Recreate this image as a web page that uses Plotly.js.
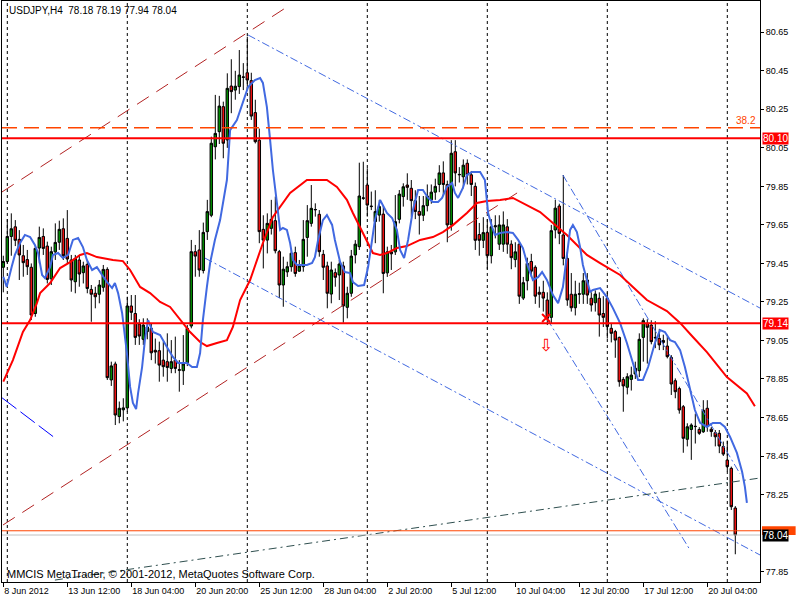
<!DOCTYPE html>
<html><head><meta charset="utf-8">
<script src="https://cdn.plot.ly/plotly-3.0.1.min.js"></script>
<style>html,body{margin:0;padding:0;background:#fff}#chart{width:800px;height:600px}</style>
</head><body><div id="chart"></div>
<script>
// ---- OHLC of USDJPY H4 bars (bar 0 = 8 Jun 2012 20:00) ----
const openP = [
79.43,79.46,79.59,79.64,79.575,79.49,79.47,79.43,79.19,79.53,
79.59,79.54,79.37,79.51,79.56,79.63,79.58,79.468,79.355,79.468,
79.402,79.445,79.315,79.295,79.29,79.326,79.419,78.845,78.928,78.655,
78.69,78.70,79.229,79.19,79.135,79.056,79.096,79.113,78.999,78.997,
78.948,78.94,78.905,78.948,78.895,78.893,78.935,79.125,79.511,79.52,
79.413,79.615,79.70,80.056,80.134,80.264,80.091,80.371,80.35,80.368,
80.416,80.44,80.399,80.233,80.09,79.627,79.571,79.632,79.672,79.511,
79.338,79.406,79.433,79.506,79.41,79.433,79.585,79.658,79.728,79.705,
79.497,79.437,79.291,79.402,79.39,79.437,79.222,79.295,79.494,79.537,
79.788,79.857,79.745,79.667,79.701,79.706,79.401,79.51,79.51,79.679,
79.797,79.857,79.84,79.776,79.72,79.70,79.75,79.78,79.82,79.86,
79.92,79.86,79.65,80.03,79.91,79.90,79.97,79.91,79.85,79.60,
79.57,79.61,79.49,79.64,79.55,79.55,79.64,79.55,79.47,79.55,
79.27,79.36,79.46,79.43,79.30,79.30,79.26,79.17,79.624,79.748,
79.598,79.476,79.29,79.22,79.29,79.29,79.364,79.269,79.246,79.269,
79.19,79.269,79.113,79.096,79.066,78.848,78.807,78.848,78.876,78.893,
79.066,79.139,79.13,79.066,79.061,79.05,79.021,78.962,78.841,78.80,
78.706,78.537,78.588,78.603,78.588,78.576,78.698,78.589,78.571,78.568,
78.499,78.429,78.386,78.18];
const highP = [
79.49,79.68,79.71,79.675,79.623,79.546,79.52,79.45,79.546,79.641,
79.632,79.563,79.537,79.658,79.672,79.684,79.727,79.494,79.494,79.494,
79.459,79.468,79.338,79.329,79.364,79.442,79.43,78.94,78.94,78.733,
78.75,79.277,79.286,79.286,79.16,79.165,79.165,79.139,79.06,79.044,
79.044,79.087,79.052,79.07,78.948,79.078,79.13,79.572,79.546,79.623,
79.662,79.78,80.108,80.325,80.32,80.29,80.437,80.51,80.45,80.558,
80.49,80.627,80.44,80.30,80.15,79.70,79.71,79.78,79.797,79.52,
79.485,79.459,79.528,79.537,79.468,79.675,79.753,79.857,79.762,79.727,
79.52,79.459,79.459,79.424,79.468,79.459,79.329,79.52,79.571,79.973,
79.978,79.944,79.823,79.83,79.78,79.753,79.537,79.546,79.805,79.831,
79.866,79.918,79.883,79.83,79.80,79.80,79.86,79.86,79.89,79.96,
79.98,79.88,80.09,80.09,79.95,79.99,79.99,79.93,79.87,79.66,
79.69,79.68,79.68,79.70,79.70,79.72,79.68,79.57,79.56,79.56,
79.38,79.48,79.50,79.44,79.33,79.36,79.30,79.65,79.78,79.76,
79.909,79.51,79.40,79.36,79.35,79.40,79.40,79.30,79.31,79.30,
79.28,79.30,79.14,79.105,79.07,78.86,78.88,78.914,78.94,79.087,
79.165,79.16,79.155,79.15,79.11,79.08,79.07,78.974,78.853,78.81,
78.715,78.62,78.62,78.67,78.60,78.74,78.74,78.60,78.585,78.585,
78.525,78.53,78.395,78.19];
const lowP = [
79.30,79.45,79.49,79.54,79.364,79.381,79.39,79.156,79.173,79.45,
79.494,79.346,79.338,79.468,79.52,79.468,79.45,79.303,79.295,79.329,
79.346,79.295,79.147,79.217,79.243,79.303,78.845,78.814,78.611,78.62,
78.63,78.68,79.156,79.027,79.027,79.027,79.056,78.948,78.93,78.836,
78.862,78.836,78.88,78.88,78.784,78.819,78.917,79.113,79.381,79.381,
79.398,79.572,79.69,79.99,80.07,79.996,80.05,80.23,80.30,80.33,
80.35,80.35,80.195,80.073,79.555,79.424,79.502,79.60,79.502,79.27,
79.225,79.38,79.407,79.381,79.407,79.407,79.485,79.641,79.693,79.485,
79.364,79.217,79.243,79.329,79.26,79.142,79.165,79.277,79.45,79.52,
79.78,79.693,79.727,79.555,79.667,79.295,79.38,79.416,79.494,79.658,
79.745,79.78,79.693,79.68,79.60,79.67,79.72,79.76,79.78,79.82,
79.80,79.56,79.62,79.85,79.87,79.84,79.86,79.80,79.52,79.49,
79.53,79.42,79.45,79.58,79.52,79.51,79.50,79.42,79.43,79.24,
79.26,79.31,79.38,79.24,79.22,79.20,79.13,79.14,79.58,79.55,
79.44,79.23,79.20,79.18,79.24,79.24,79.24,79.20,79.20,79.07,
79.12,79.06,79.04,78.96,78.81,78.68,78.77,78.79,78.85,78.86,
78.94,78.93,79.03,79.01,79.00,79.00,78.957,78.767,78.75,78.67,
78.467,78.50,78.43,78.515,78.56,78.57,78.576,78.55,78.50,78.465,
78.45,78.37,78.17,77.94];
const closeP = [
79.46,79.59,79.63,79.57,79.494,79.454,79.433,79.182,79.528,79.585,
79.528,79.367,79.511,79.559,79.627,79.49,79.473,79.364,79.476,79.395,
79.437,79.32,79.29,79.277,79.338,79.419,78.857,78.918,78.663,78.698,
78.70,79.229,79.196,79.066,79.073,79.13,79.12,78.986,78.99,78.922,
78.914,78.91,78.94,78.905,78.898,78.928,79.113,79.511,79.488,79.416,
79.611,79.719,80.074,80.125,80.267,80.074,80.359,80.342,80.37,80.428,
80.418,80.402,80.215,80.082,79.615,79.571,79.658,79.679,79.516,79.338,
79.42,79.433,79.503,79.398,79.436,79.575,79.672,79.736,79.73,79.511,
79.43,79.295,79.416,79.378,79.447,79.229,79.295,79.488,79.55,79.80,
79.79,79.753,79.747,79.719,79.745,79.398,79.51,79.50,79.667,79.81,
79.848,79.845,79.776,79.72,79.70,79.75,79.80,79.82,79.85,79.92,
79.86,79.65,80.022,79.92,79.912,79.96,79.91,79.86,79.57,79.57,
79.61,79.49,79.64,79.645,79.65,79.65,79.55,79.48,79.51,79.28,
79.35,79.45,79.41,79.28,79.29,79.27,79.165,79.62,79.737,79.606,
79.476,79.26,79.22,79.29,79.292,79.36,79.286,79.234,79.291,79.182,
79.17,79.122,79.087,79.052,78.836,78.814,78.862,78.87,78.906,79.056,
79.153,79.118,79.044,79.064,79.027,79.04,78.966,78.824,78.784,78.689,
78.542,78.602,78.611,78.604,78.568,78.688,78.603,78.577,78.55,78.502,
78.46,78.395,78.187,78.04];

// ---- moving averages: [bar, price] ----
const maFast = [[0,79.381],[0.85,79.329],[2.1,79.433],[2.9,79.494],[4.2,79.556],[5.4,79.598],[6.7,79.587],[7.9,79.546],[8.7,79.504],[9.7,79.39],[10.4,79.374],[11.7,79.431],[12.4,79.494],[13.7,79.504],[14.9,79.478],[16.2,79.494],[17.4,79.572],[18.7,79.582],[19.9,79.535],[20.9,79.468],[22.2,79.416],[23.4,79.431],[24.7,79.39],[25.9,79.354],[27.2,79.322],[27.9,79.348],[28.7,79.296],[29.7,79.193],[30.9,78.985],[31.7,78.809],[32.4,78.726],[33.2,78.694],[33.7,78.777],[34.7,78.912],[35.4,79.052],[36.2,79.156],[37.4,79.094],[39.2,79.078],[40.9,79.016],[42.4,78.964],[43.7,78.933],[45.9,78.933],[47.2,78.912],[48.4,78.912],[49.2,78.985],[49.9,79.156],[50.9,79.328],[51.7,79.452],[52.9,79.572],[54.2,79.675],[55.9,79.883],[56.7,80.142],[58.4,80.194],[59.9,80.282],[61.2,80.366],[62.9,80.402],[64.2,80.413],[64.9,80.387],[65.9,80.262],[66.7,80.091],[67.4,79.935],[68.4,79.764],[69.2,79.624],[69.9,79.634],[70.9,79.624],[71.7,79.556],[72.4,79.468],[73.4,79.442],[75.9,79.442],[77.2,79.452],[77.9,79.483],[78.7,79.572],[79.9,79.675],[80.9,79.701],[82.2,79.65],[82.9,79.572],[84.2,79.458],[85.4,79.405],[86.7,79.4],[87.4,79.353],[88.7,79.333],[90.2,79.338],[91.2,79.431],[92.2,79.572],[92.9,79.675],[94.2,79.779],[94.9,79.753],[95.9,79.712],[97.2,79.686],[98.4,79.624],[99.2,79.52],[100.2,79.478],[101.2,79.572],[102.4,79.727],[103.7,79.831],[104.9,79.831],[106.2,79.79],[107.4,79.769],[108.7,79.769],[109.7,79.79],[110.9,79.847],[112.2,79.868],[112.9,79.816],[113.7,79.79],[114.9,79.842],[115.9,79.909],[117.2,79.925],[119.2,79.925],[120.4,79.883],[120.9,79.795],[121.2,79.712],[122.2,79.639],[122.9,79.598],[124.2,79.608],[125.9,79.613],[127.4,79.608],[128.7,79.572],[129.9,79.53],[131.2,79.432],[132.4,79.364],[133.7,79.379],[134.7,79.405],[135.9,79.364],[137.4,79.286],[138.7,79.244],[139.9,79.327],[140.9,79.483],[141.7,79.624],[142.4,79.649],[143.4,79.613],[144.2,79.535],[144.9,79.442],[145.9,79.364],[146.7,79.302],[147.4,79.312],[149.2,79.322],[150.9,79.275],[152.4,79.218],[154.2,79.14],[155.9,79.037],[157.4,78.933],[158.7,78.845],[159.9,78.845],[161.2,78.912],[162.9,79.037],[164.2,79.104],[165.4,79.094],[166.7,79.052],[167.9,79.042],[169.2,79.0],[170.4,78.912],[171.7,78.793],[172.9,78.689],[174.2,78.622],[175.9,78.601],[177.4,78.622],[179.2,78.622],[180.4,78.601],[181.7,78.549],[183.4,78.466],[184.7,78.368],[185.4,78.29],[185.9,78.207]];
const maSlow = [[0,78.836],[2.4,78.948],[4.9,79.094],[6.7,79.156],[8.4,79.244],[9.2,79.296],[11.7,79.348],[14.2,79.426],[16.7,79.457],[19.2,79.494],[20.9,79.504],[23.4,79.483],[27.4,79.468],[29.9,79.462],[31.7,79.416],[34.2,79.328],[36.7,79.296],[39.2,79.25],[41.7,79.224],[44.2,79.156],[46.7,79.094],[49.2,79.042],[50.9,79.021],[53.4,79.037],[55.9,79.052],[57.4,79.12],[59.2,79.26],[61.7,79.364],[64.9,79.556],[67.4,79.691],[71.7,79.816],[75.9,79.883],[80.9,79.883],[83.4,79.847],[85.9,79.78],[87.4,79.712],[89.2,79.639],[90.9,79.572],[92.4,79.504],[94.2,79.494],[95.9,79.504],[98.4,79.53],[100.9,79.54],[104.2,79.572],[107.4,79.587],[109.9,79.613],[112.4,79.649],[115.9,79.712],[118.4,79.764],[120.9,79.774],[124.2,79.779],[127.4,79.79],[130.9,79.753],[134.2,79.717],[137.4,79.66],[140.9,79.598],[143.4,79.546],[145.9,79.494],[149.2,79.452],[150.9,79.431],[154.2,79.39],[157.4,79.328],[160.9,79.26],[165.9,79.203],[169.2,79.141],[172.4,79.068],[175.9,78.99],[180.9,78.86],[184.2,78.803],[185.9,78.775],[187.9,78.708]];

// ---- axis ticks ----
const dateTickBars = [0,16,32,48,64,80,96,112,128,144,160,176];
const dateTickLabels = ["8 Jun 2012","13 Jun 12:00","18 Jun 04:00","20 Jun 20:00","25 Jun 12:00","28 Jun 04:00","2 Jul 20:00","5 Jul 12:00","10 Jul 04:00","12 Jul 20:00","17 Jul 12:00","20 Jul 04:00"];
const priceTicks = [77.85,78.25,78.45,78.65,78.85,79.05,79.25,79.45,79.65,79.85,80.05,80.25,80.45,80.65];
const weekStartBars = [1,31,61,91,121,151,181];

// ---- levels and drawn objects ----
const resistanceLevel = 80.10;
const supportLevel = 79.14;
const fiboLevel = 80.155;
const fiboLabel = "38.2";
const askLevel = 78.062;
const bidLevel = 78.04;
const redChannelUpper = {x:[-0.33,71.7], y:[79.821,80.792]};
const redChannelLower = {x:[-0.08,130.4], y:[78.092,79.842]};
const blueChannelUpper = {x:[61.2,189.2], y:[80.636,79.218]};
const blueChannelLower = {x:[50.4,189.2], y:[79.478,77.936]};
const steepUpper = {x:[139.9,184.2], y:[79.909,78.357]};
const steepLower = {x:[136.0,171.7], y:[79.16,77.962]};
const blueLeft = {x:[-0.3,12.9], y:[78.752,78.544]};
const slateLine = {x:[12.9,189.2], y:[77.806,78.336]};
const crossMark = {x:[135.7], y:[79.167]};
const arrowMark = {x:135.7, y:79.026};

const F = "Liberation Sans, Arial, sans-serif";
const bars = openP.map((_, i) => i);

function lineTrace(obj, color, dash, width) {
  return {type:'scatter', mode:'lines', x:obj.x, y:obj.y, line:{color:color, width:width||1, dash:dash}, hoverinfo:'skip', showlegend:false};
}
const DD = '8px,3px,2px,3px';
const traces = [
  lineTrace(redChannelUpper, '#B22222', '14px,9px'),
  lineTrace(redChannelLower, '#B22222', '14px,9px'),
  lineTrace(blueChannelUpper, '#4169E1', DD),
  lineTrace(blueChannelLower, '#4169E1', DD),
  lineTrace(steepUpper, '#4169E1', DD),
  lineTrace(steepLower, '#4169E1', DD),
  lineTrace(blueLeft, '#0000FF', '18px,5px'),
  lineTrace(slateLine, '#2F4F4F', '8px,4px,2px,4px'),
  {type:'candlestick', x:bars, open:openP, high:highP, low:lowP, close:closeP,
   increasing:{line:{color:'#000000', width:1}, fillcolor:'#008800'},
   decreasing:{line:{color:'#000000', width:1}, fillcolor:'#EE1111'},
   whiskerwidth:0, hoverinfo:'skip', showlegend:false},
  {type:'scatter', mode:'lines', x:maSlow.map(p=>p[0]), y:maSlow.map(p=>p[1]), line:{color:'#FF0000', width:2}, hoverinfo:'skip', showlegend:false},
  {type:'scatter', mode:'lines', x:maFast.map(p=>p[0]), y:maFast.map(p=>p[1]), line:{color:'#4169E1', width:2}, hoverinfo:'skip', showlegend:false},
  {type:'scatter', mode:'markers', x:crossMark.x, y:crossMark.y, marker:{symbol:'x-thin', size:8, line:{color:'#FF0000', width:2}}, hoverinfo:'skip', showlegend:false}
];

const shapes = [];
weekStartBars.forEach(b => shapes.push({type:'line', layer:'below', xref:'x', yref:'paper', x0:b, x1:b, y0:0, y1:1, line:{color:'#000000', width:1, dash:'3px,3px'}}));
function hline(v, color, width, dash) {
  return {type:'line', xref:'paper', yref:'y', x0:0, x1:1, y0:v, y1:v, line:{color:color, width:width, dash:dash||'solid'}};
}
shapes.push(hline(fiboLevel, '#FF4500', 1.5, '15px,7px'));
shapes.push(hline(resistanceLevel, '#FF0000', 2));
shapes.push(hline(supportLevel, '#FF0000', 2));
shapes.push(hline(askLevel, '#FF4500', 1));
shapes.push(hline(bidLevel, '#C0C0C0', 1));
// ask price tag, mostly hidden behind the bid tag
shapes.push({type:'rect', xref:'paper', yref:'y', x0:1.0026, x1:1.047, y0:bidLevel, y1:askLevel+0.024, fillcolor:'#FF4500', line:{width:0}});

function priceBox(v, bg, txt) {
  return {xref:'paper', yref:'y', x:1.003, y:v, xanchor:'left', yanchor:'middle', text:txt, showarrow:false,
    bgcolor:bg, borderpad:0, font:{family:F, size:10, color:'#FFFFFF'}};
}
const annotations = [
  {xref:'paper', yref:'paper', x:0.0066, y:0.997, xanchor:'left', yanchor:'top', showarrow:false,
   text:'USDJPY,H4  78.18 78.19 77.94 78.04', font:{family:F, size:10, color:'#000000'}},
  {xref:'paper', yref:'paper', x:0.004, y:0.0, xanchor:'left', yanchor:'bottom', showarrow:false,
   text:'MMCIS MetaTrader, © 2001-2012, MetaQuotes Software Corp.', font:{family:F, size:11, color:'#000000'}},
  {xref:'paper', yref:'y', x:0.998, y:fiboLevel, xanchor:'right', yanchor:'bottom', showarrow:false, text:fiboLabel,
   font:{family:F, size:10, color:'#FF4500'}},
  {xref:'x', yref:'y', x:arrowMark.x, y:arrowMark.y, showarrow:false, text:'⇩', font:{family:'DejaVu Sans', size:17, color:'#FF0000'}},
  priceBox(resistanceLevel, '#FF0000', resistanceLevel.toFixed(2)),
  priceBox(supportLevel, '#FF0000', supportLevel.toFixed(2)),
  priceBox(bidLevel, '#000000', bidLevel.toFixed(2))
];

const layout = {
  width:800, height:600, margin:{l:2, r:40, t:1, b:18, pad:0},
  paper_bgcolor:'#FFFFFF', plot_bgcolor:'#FFFFFF', showlegend:false, boxgap:0.12,
  xaxis:{range:[-0.325,189.175], showgrid:false, zeroline:false, showline:true, mirror:true, linecolor:'#000000', linewidth:1,
    ticks:'outside', ticklen:4, tickcolor:'#000000', tickvals:dateTickBars, ticktext:dateTickLabels,
    ticklabelposition:'outside right', tickfont:{family:F, size:9, color:'#000000'}, rangeslider:{visible:false}, fixedrange:true},
  yaxis:{side:'right', range:[77.796,80.8125], showgrid:false, zeroline:false, showline:true, mirror:true, linecolor:'#000000', linewidth:1,
    ticks:'outside', ticklen:3, tickcolor:'#000000', tickvals:priceTicks, ticktext:priceTicks.map(v=>v.toFixed(2)),
    tickfont:{family:F, size:9, color:'#000000'}, fixedrange:true},
  shapes:shapes, annotations:annotations
};
Plotly.newPlot('chart', traces, layout, {staticPlot:true, displayModeBar:false});
</script></body></html>
